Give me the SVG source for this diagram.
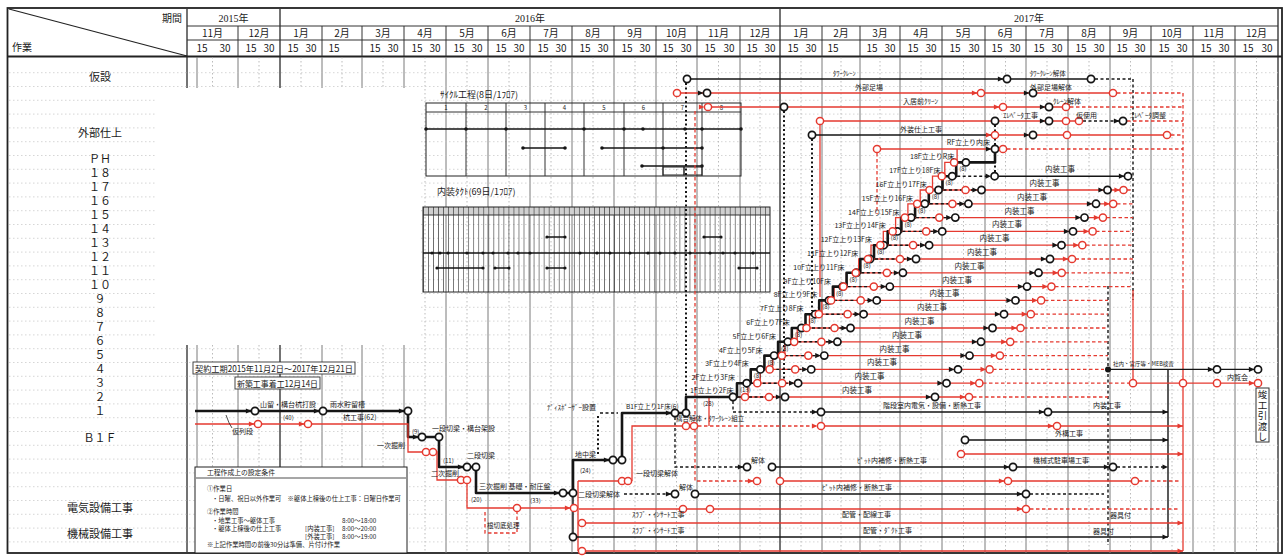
<svg xmlns="http://www.w3.org/2000/svg" width="1287" height="557" viewBox="0 0 1287 557">
<defs>
<style>
text{font-family:"Noto Sans CJK JP","Liberation Sans",sans-serif;fill:#1a1a1a}
.hd{font-family:"Liberation Serif","Noto Sans CJK JP",serif;font-size:10px}
.lb{font-family:"Liberation Serif","Noto Sans CJK JP",serif;font-size:11px;text-anchor:middle}
.a{font-size:7px}
.b{font-size:7.5px}
.c{font-size:6px}
.m{text-anchor:middle}
.e{text-anchor:end}
.hl{stroke:#333;stroke-width:1;fill:none}
.gm{stroke:#7a7a7a;stroke-width:1;fill:none}
.gy{stroke:#3a3a3a;stroke-width:1.4;fill:none}
.gd{stroke:#aaa;stroke-width:.8;stroke-dasharray:1.5 2.5;fill:none}
.gh{stroke:#c4c4c4;stroke-width:.7;stroke-dasharray:1.5 2.5;fill:none}
.k{stroke:#151515;stroke-width:1.4;fill:none}
.kt{stroke:#151515;stroke-width:2.6;fill:none;stroke-linejoin:round}
.kd{stroke:#151515;stroke-width:1.4;fill:none;stroke-dasharray:3 2.5}
.ko{stroke:#151515;stroke-width:2;fill:none;stroke-dasharray:2 2.5}
.r{stroke:#e53a30;stroke-width:1.3;fill:none}
.rd{stroke:#e53a30;stroke-width:1.3;fill:none;stroke-dasharray:3.5 2.5}
.cb{fill:#fff;stroke:#151515;stroke-width:1.7}
.cr{fill:#fff;stroke:#e53a30;stroke-width:1.5}
.tb{fill:none;stroke:#222;stroke-width:1}
.dt{fill:#151515}
</style>
<path id="ak" d="M0 0L-5.5-2.6L-5.5 2.6Z" fill="#151515"/>
<path id="ar" d="M0 0L-5.5-2.6L-5.5 2.6Z" fill="#e53a30"/>
<pattern id="tk" x="423" y="207" width="5.029" height="85" patternUnits="userSpaceOnUse"><path d="M0.35 0V85" stroke="#2a2a2a" stroke-width="0.7"/></pattern>
</defs>
<rect width="1287" height="557" fill="#fff"/>

<g id="header">
<rect x="7.5" y="8" width="1274.5" height="545" fill="none" stroke="#222" stroke-width="1.8"/>
<path class="gy" d="M187 8V553M280 8V553M780 8V553M1278 8V553"/>
<path class="hl" d="M187 26H1278M187 40H1278"/>
<path stroke="#222" stroke-width="1.8" d="M7.5 56.5H1282"/>
<path class="hl" d="M238 26V56M322 26V56M362 26V56M404 26V56M446 26V56M488 26V56M530 26V56M572 26V56M614 26V56M656 26V56M697 26V56M740 26V56M822 26V56M860 26V56M900 26V56M942 26V56M985 26V56M1026 26V56M1068 26V56M1110 26V56M1151 26V56M1193 26V56M1235 26V56"/>
<path d="M9 9L187 56" stroke="#222" stroke-width="1.2"/>
<text class="hd e" x="182" y="21.5">期間</text>
<text class="hd" x="12" y="51">作業</text>
<text class="hd m" x="233.5" y="21.5">2015年</text>
<text class="hd m" x="530" y="21.5">2016年</text>
<text class="hd m" x="1029" y="21.5">2017年</text>
<g class="hd m">
<text x="212.5" y="37">11月</text><text x="259" y="37">12月</text><text x="301" y="37">1月</text><text x="342" y="37">2月</text><text x="383" y="37">3月</text><text x="425" y="37">4月</text><text x="467" y="37">5月</text><text x="509" y="37">6月</text><text x="551" y="37">7月</text><text x="593" y="37">8月</text><text x="635" y="37">9月</text><text x="676.5" y="37">10月</text><text x="718.5" y="37">11月</text><text x="760" y="37">12月</text>
<text x="801" y="37">1月</text><text x="841" y="37">2月</text><text x="880" y="37">3月</text><text x="921" y="37">4月</text><text x="963.5" y="37">5月</text><text x="1005.5" y="37">6月</text><text x="1047" y="37">7月</text><text x="1089" y="37">8月</text><text x="1130.5" y="37">9月</text><text x="1172" y="37">10月</text><text x="1214" y="37">11月</text><text x="1256.5" y="37">12月</text>
</g>
<g class="hd m">
<text x="202" y="52">15</text><text x="225" y="52">30</text><text x="251" y="52">15</text><text x="269" y="52">30</text><text x="293" y="52">15</text><text x="311" y="52">30</text><text x="334" y="52">15</text>
<text x="375" y="52">15</text><text x="393" y="52">30</text><text x="417" y="52">15</text><text x="435" y="52">30</text><text x="459" y="52">15</text><text x="477" y="52">30</text><text x="501" y="52">15</text><text x="519" y="52">30</text><text x="543" y="52">15</text><text x="561" y="52">30</text><text x="585" y="52">15</text><text x="603" y="52">30</text><text x="627" y="52">15</text><text x="645" y="52">30</text><text x="668" y="52">15</text><text x="686" y="52">30</text><text x="710" y="52">15</text><text x="729" y="52">30</text><text x="752" y="52">15</text><text x="770" y="52">30</text>
<text x="793" y="52">15</text><text x="811" y="52">30</text><text x="833" y="52">15</text><text x="872" y="52">15</text><text x="890" y="52">30</text><text x="913" y="52">15</text><text x="931" y="52">30</text><text x="955" y="52">15</text><text x="974" y="52">30</text><text x="997" y="52">15</text><text x="1015" y="52">30</text><text x="1039" y="52">15</text><text x="1057" y="52">30</text><text x="1081" y="52">15</text><text x="1099" y="52">30</text><text x="1122" y="52">15</text><text x="1140" y="52">30</text><text x="1164" y="52">15</text><text x="1182" y="52">30</text><text x="1206" y="52">15</text><text x="1224" y="52">30</text><text x="1248" y="52">15</text><text x="1267" y="52">30</text>
</g>
</g>

<g id="grid">
<path class="gm" d="M197 57V553M238 57V553M322 57V553M362 57V553M404 57V553M446 57V553M488 57V553M530 57V553M572 57V553M614 57V553M656 57V553M697 57V553M740 57V553M822 57V553M860 57V553M900 57V553M942 57V553M985 57V553M1026 57V553M1068 57V553M1110 57V553M1151 57V553M1193 57V553M1235 57V553"/>
<path class="gd" d="M212.5 57V553M259 57V553M301 57V553M342 57V553M383 57V553M425 57V553M467 57V553M509 57V553M551 57V553M593 57V553M635 57V553M676.5 57V553M718.5 57V553M760 57V553M801 57V553M841 57V553M880 57V553M921 57V553M963.5 57V553M1005.5 57V553M1047 57V553M1089 57V553M1130.5 57V553M1172 57V553M1214 57V553M1256.5 57V553"/>
<path class="gh" d="M9 72.7H1278M9 86.5H1278M9 100.3H1278M9 114.1H1278M9 127.9H1278M9 141.7H1278M9 155.5H1278M9 169.3H1278M9 183.1H1278M9 196.9H1278M9 210.7H1278M9 224.5H1278M9 238.3H1278M9 252.1H1278M9 265.9H1278M9 279.7H1278M9 293.5H1278M9 307.3H1278M9 321.1H1278M9 334.9H1278M9 348.7H1278M9 362.5H1278M9 376.3H1278M9 390.1H1278M9 403.9H1278M9 417.7H1278M9 431.5H1278M9 445.3H1278M9 459.1H1278M9 472.9H1278M9 486.7H1278M9 500.5H1278M9 514.3H1278M9 528.1H1278M9 541.9H1278"/>
<rect x="157" y="88" width="263" height="257" fill="#fff"/>
</g>

<g id="row-labels" class="lb">
<text x="100" y="81">仮設</text>
<text x="100" y="137">外部仕上</text>
<text x="100" y="163">ＰＨ</text>
<text x="100" y="177">１８</text><text x="100" y="191">１７</text><text x="100" y="205">１６</text><text x="100" y="219">１５</text><text x="100" y="233">１４</text><text x="100" y="247">１３</text><text x="100" y="261">１２</text><text x="100" y="275">１１</text><text x="100" y="289">１０</text>
<text x="100" y="303">９</text><text x="100" y="317">８</text><text x="100" y="331">７</text><text x="100" y="345">６</text><text x="100" y="359">５</text><text x="100" y="373">４</text><text x="100" y="387">３</text><text x="100" y="401">２</text><text x="100" y="415">１</text>
<text x="100" y="442">Ｂ１Ｆ</text>
<text x="100" y="512">電気設備工事</text>
<text x="100" y="538">機械設備工事</text>
</g>

<g id="cycle-table">
<text x="440" y="98" font-size="9">ｻｲｸﾙ工程(8日/1ﾌﾛｱ)</text>
<rect class="tb" x="426" y="103" width="315" height="73"/>
<path class="hl" d="M426 112H741M466 103V176M506 103V176M545 103V176M584 103V176M624 103V176M663 103V176M702 103V176"/>
<g class="c m"><text x="446" y="110">1</text><text x="486" y="110">2</text><text x="525.5" y="110">3</text><text x="564.5" y="110">4</text><text x="604" y="110">5</text><text x="643.5" y="110">6</text><text x="682.5" y="110">7</text><text x="721.5" y="110">8</text></g>
<path class="k" d="M426 129H741M523 148H565M602 148H702M642 166H702"/>
<g class="dt"><circle cx="426" cy="129" r="1.8"/><circle cx="466" cy="129" r="1.8"/><circle cx="506" cy="129" r="1.8"/><circle cx="584" cy="129" r="1.8"/><circle cx="624" cy="129" r="1.8"/><circle cx="643" cy="129" r="1.8"/><circle cx="685" cy="129" r="1.8"/><circle cx="702" cy="129" r="1.8"/><circle cx="741" cy="129" r="1.8"/><circle cx="523" cy="148" r="1.8"/><circle cx="565" cy="148" r="1.8"/><circle cx="602" cy="148" r="1.8"/><circle cx="663" cy="148" r="1.8"/><circle cx="702" cy="148" r="1.8"/><circle cx="642" cy="166" r="1.8"/><circle cx="702" cy="166" r="1.8"/></g>
<rect class="tb" x="663" y="167" width="21" height="8"/><rect class="tb" x="684" y="167" width="18" height="8"/>
</g>

<g id="takt-table">
<text x="437" y="195" font-size="9">内装ﾀｸﾄ(69日/1ﾌﾛｱ)</text>
<rect x="423" y="207" width="347" height="8" fill="#d0d0d0"/>
<rect x="423" y="207" width="347" height="85" fill="url(#tk)"/>
<rect class="tb" x="423" y="207" width="347" height="85"/>
<path class="hl" d="M423 215H770"/>
<path class="k" d="M423 253H770M547 237H565M704 237H721M437 268H483M495 268H509M547 268H565M739 268H757"/>
<g class="dt"><circle cx="432" cy="253" r="1.6"/><circle cx="440" cy="253" r="1.6"/><circle cx="448" cy="253" r="1.6"/><circle cx="467" cy="253" r="1.6"/><circle cx="483" cy="253" r="1.6"/><circle cx="493" cy="253" r="1.6"/><circle cx="508" cy="253" r="1.6"/><circle cx="518" cy="253" r="1.6"/><circle cx="530" cy="253" r="1.6"/><circle cx="580" cy="253" r="1.6"/><circle cx="597" cy="253" r="1.6"/><circle cx="610" cy="253" r="1.6"/><circle cx="630" cy="253" r="1.6"/><circle cx="648" cy="253" r="1.6"/><circle cx="660" cy="253" r="1.6"/><circle cx="675" cy="253" r="1.6"/><circle cx="690" cy="253" r="1.6"/><circle cx="710" cy="253" r="1.6"/><circle cx="723" cy="253" r="1.6"/><circle cx="735" cy="253" r="1.6"/><circle cx="753" cy="253" r="1.6"/><circle cx="547" cy="237" r="1.6"/><circle cx="565" cy="237" r="1.6"/><circle cx="704" cy="237" r="1.6"/><circle cx="721" cy="237" r="1.6"/><circle cx="437" cy="268" r="1.6"/><circle cx="483" cy="268" r="1.6"/><circle cx="495" cy="268" r="1.6"/><circle cx="509" cy="268" r="1.6"/><circle cx="547" cy="268" r="1.6"/><circle cx="565" cy="268" r="1.6"/><circle cx="739" cy="268" r="1.6"/><circle cx="757" cy="268" r="1.6"/></g>
</g>

<g id="connectors">
<path class="kd" d="M1133 79V300M1108 286V545"/>
<path class="rd" d="M1183 93V290"/>
<path class="r" d="M1183 290V551M1133 290V379.5"/>
<path class="k" d="M1168 369.4V537"/>
<path class="ko" d="M686 409V83M784 111V380M812 139V311M995 125V172M598 416V456"/>
<path class="kd" d="M675 417V467H743M600 413H618M733 401V412H817"/>
<path class="rd" d="M695 111V481H753M877 153V214M485 512V533H517V512"/>
<path class="r" d="M820 125V297"/>
<path class="k" d="M691 79H1003M1011 79H1087"/>
<path class="kd" d="M1095 79H1133M1083 121H1119"/>
<path class="r" d="M681 93H703M711 93H977M985 93H1029M1037 93H1109M712 107H999M1007 107H1045M1053 107H1062M824 121H1045M1053 121H1062M1070 121H1075M999 135H1029M1037 135H1063M1071 135H1163M881 149H991"/>
<path class="k" d="M816 135H991"/>
<path class="rd" d="M1117 93H1183M1070 107H1183M1127 121H1183M1171 135H1183M1007 149H1183"/>
<path class="kt" d="M195 411H408V437H439V467H476V493H573V460H622V413H686"/>
<path class="r" d="M195 424H408V452H437V480H467V508H578M578 481V551M578 481H618M632 481V426H683"/>
<path class="k" d="M573 497V533"/>
<path class="r" d="M709 426V397H748V383.2H760.3V369.4H772.6V355.6H784.9V341.8H797.2V328H809.5V314.2H821.8V300.4H834.1V286.6H846.4V272.8H858.7V259H871V245.2H883.3V231.4H895.6V217.6H907.9V203.8H920.2V190H932.5V176.2H944.8V162.4H957.1V149"/>
<path class="kt" d="M686 413V397H737V383.2H750.7V369.4H764.4V355.6H778.1V341.8H791.8V328H805.5V314.2H819.2V300.4H832.9V286.6H846.6V272.8H860.3V259H874V245.2H887.7V231.4H901.4V217.6H915.1V203.8H928.8V190H942.5V176.2H956.2V162.4H995V152.6"/>
<path class="r" d="M745 397H969M757.3 383.2H979.3M769.6 369.4H989.6M781.9 355.6H999.9M794.2 341.8H1010.2M806.5 328H1020.5M818.8 314.2H1030.8M831.1 300.4H1041.1M843.4 286.6H1051.4M855.7 272.8H1061.7M868 259H1072M880.3 245.2H1082.3M892.6 231.4H1092.6M904.9 217.6H1102.9M917.2 203.8H1113.2M929.5 190H1123.5"/>
<path class="rd" d="M973 397H1108M983 383.2H1129M993 369.4H1104M1003.5 355.6H1108M1014 341.8H1108M1024 328H1108M1034.5 314.2H1108M1045 300.4H1108M1055 286.6H1133M1065.5 272.8H1133M1075.5 259H1133M1086 245.2H1133M1096 231.4H1133M1106.5 217.6H1133M1117 203.8H1133M1127 190H1133"/>
<path class="kd" d="M738 397H780M751.7 383.2H793.1M765.4 369.4H806.2M779.1 355.6H819.3M792.8 341.8H832.4M806.5 328H845.5M820.2 314.2H858.6M833.9 300.4H871.7M847.6 286.6H884.8M861.3 272.8H897.9M875 259H911M888.7 245.2H924.1M902.4 231.4H937.2M916.1 217.6H950.3M929.8 203.8H963.4M943.5 190H976.5M957.2 176.2H989.6"/>
<path class="k" d="M998.6 176.2H1124"/>
<path class="r" d="M1137 383.2H1179M1187 383.2H1213M1221 383.2H1254"/>
<path class="k" d="M1108 369.4H1213M1221 369.4H1254"/>
<path class="k" d="M825 412H1044M1052 412H1168M969 440H1168M776 467H1009M1017 467H1109M699 494H1022M577 537H1168"/>
<path class="kd" d="M1117 467H1165M624 494H671M1030 494H1104"/>
<path class="rd" d="M698 426H817M1139 481H1180M1030 509H1180"/>
<path class="r" d="M825 426H1053M1061 426H1183M965 454H1183M784 481H1004M1012 481H1131M579 509H1022M586 523H1183M586 551H1183"/>
</g>

<g id="nodes">
<g id="circles-black">
<circle class="cb" cx="687" cy="79" r="3.6"/><circle class="cb" cx="1007" cy="79" r="3.6"/><circle class="cb" cx="1091" cy="79" r="3.6"/>
<circle class="cb" cx="707" cy="93" r="3.6"/><circle class="cb" cx="1033" cy="93" r="3.6"/>
<circle class="cb" cx="784" cy="107" r="3.6"/><circle class="cb" cx="1049" cy="107" r="3.6"/>
<circle class="cb" cx="995" cy="121" r="3.6"/><circle class="cb" cx="1049" cy="121" r="3.6"/><circle class="cb" cx="1123" cy="121" r="3.6"/>
<circle class="cb" cx="812" cy="135" r="3.6"/><circle class="cb" cx="1033" cy="135" r="3.6"/>
<circle class="cb" cx="995" cy="149" r="3.6"/>
<circle class="cb" cx="255" cy="411" r="3.6"/><circle class="cb" cx="323" cy="411" r="3.6"/><circle class="cb" cx="408" cy="411" r="3.6"/><circle class="cb" cx="422" cy="437" r="3.6"/><circle class="cb" cx="439" cy="437" r="3.6"/><circle class="cb" cx="467" cy="467" r="3.6"/><circle class="cb" cx="476" cy="467" r="3.6"/><circle class="cb" cx="563" cy="493" r="3.6"/><circle class="cb" cx="573" cy="493" r="3.6"/><circle class="cb" cx="613" cy="460" r="3.6"/><circle class="cb" cx="622" cy="460" r="3.6"/><circle class="cb" cx="675" cy="413" r="3.6"/><circle class="cb" cx="686" cy="413" r="3.6"/>
<circle class="cb" cx="733" cy="397" r="3.6"/><circle class="cb" cx="746.7" cy="383.2" r="3.6"/><circle class="cb" cx="760.4" cy="369.4" r="3.6"/><circle class="cb" cx="774.1" cy="355.6" r="3.6"/><circle class="cb" cx="787.8" cy="341.8" r="3.6"/><circle class="cb" cx="801.5" cy="328" r="3.6"/><circle class="cb" cx="815.2" cy="314.2" r="3.6"/><circle class="cb" cx="828.9" cy="300.4" r="3.6"/><circle class="cb" cx="842.6" cy="286.6" r="3.6"/><circle class="cb" cx="856.3" cy="272.8" r="3.6"/><circle class="cb" cx="870" cy="259" r="3.6"/><circle class="cb" cx="883.7" cy="245.2" r="3.6"/><circle class="cb" cx="897.4" cy="231.4" r="3.6"/><circle class="cb" cx="911.1" cy="217.6" r="3.6"/><circle class="cb" cx="924.8" cy="203.8" r="3.6"/><circle class="cb" cx="938.5" cy="190" r="3.6"/><circle class="cb" cx="952.2" cy="176.2" r="3.6"/><circle class="cb" cx="965.9" cy="162.4" r="3.6"/>
<circle class="cb" cx="785" cy="397" r="3.6"/><circle class="cb" cx="798.1" cy="383.2" r="3.6"/><circle class="cb" cx="811.2" cy="369.4" r="3.6"/><circle class="cb" cx="824.3" cy="355.6" r="3.6"/><circle class="cb" cx="837.4" cy="341.8" r="3.6"/><circle class="cb" cx="850.5" cy="328" r="3.6"/><circle class="cb" cx="863.6" cy="314.2" r="3.6"/><circle class="cb" cx="876.7" cy="300.4" r="3.6"/><circle class="cb" cx="889.8" cy="286.6" r="3.6"/><circle class="cb" cx="902.9" cy="272.8" r="3.6"/><circle class="cb" cx="916" cy="259" r="3.6"/><circle class="cb" cx="929.1" cy="245.2" r="3.6"/><circle class="cb" cx="942.2" cy="231.4" r="3.6"/><circle class="cb" cx="955.3" cy="217.6" r="3.6"/><circle class="cb" cx="968.4" cy="203.8" r="3.6"/><circle class="cb" cx="981.5" cy="190" r="3.6"/><circle class="cb" cx="994.6" cy="176.2" r="3.6"/>
<circle class="cb" cx="935" cy="397" r="3.6"/><circle class="cb" cx="946.5" cy="383.2" r="3.6"/><circle class="cb" cx="958" cy="369.4" r="3.6"/><circle class="cb" cx="969.5" cy="355.6" r="3.6"/><circle class="cb" cx="981" cy="341.8" r="3.6"/><circle class="cb" cx="992.5" cy="328" r="3.6"/><circle class="cb" cx="1004" cy="314.2" r="3.6"/><circle class="cb" cx="1015.5" cy="300.4" r="3.6"/><circle class="cb" cx="1027" cy="286.6" r="3.6"/><circle class="cb" cx="1038.5" cy="272.8" r="3.6"/><circle class="cb" cx="1050" cy="259" r="3.6"/><circle class="cb" cx="1061.5" cy="245.2" r="3.6"/><circle class="cb" cx="1073" cy="231.4" r="3.6"/><circle class="cb" cx="1084.5" cy="217.6" r="3.6"/><circle class="cb" cx="1096" cy="203.8" r="3.6"/><circle class="cb" cx="1107.5" cy="190" r="3.6"/><circle class="cb" cx="1128" cy="176.2" r="3.6"/>
<circle class="cb" cx="821" cy="412" r="3.6"/><circle class="cb" cx="1048" cy="412" r="3.6"/><circle class="cb" cx="965" cy="440" r="3.6"/><circle class="cb" cx="747" cy="467" r="3.6"/><circle class="cb" cx="772" cy="467" r="3.6"/><circle class="cb" cx="1013" cy="467" r="3.6"/><circle class="cb" cx="1113" cy="467" r="3.6"/><circle class="cb" cx="675" cy="494" r="3.6"/><circle class="cb" cx="695" cy="494" r="3.6"/><circle class="cb" cx="1026" cy="494" r="3.6"/><circle class="cb" cx="573" cy="537" r="3.6"/>
<circle class="cb" cx="1217" cy="369.4" r="3.6"/><circle class="cb" cx="1258" cy="369.4" r="3.6"/>
<circle class="dt" cx="1108" cy="369.4" r="3"/>
</g>
<g id="circles-red">
<circle class="cr" cx="677" cy="93" r="3.6"/><circle class="cr" cx="981" cy="93" r="3.6"/><circle class="cr" cx="1113" cy="93" r="3.6"/>
<circle class="cr" cx="708" cy="107" r="3.6"/><circle class="cr" cx="1003" cy="107" r="3.6"/><circle class="cr" cx="1066" cy="107" r="3.6"/>
<circle class="cr" cx="820" cy="121" r="3.6"/><circle class="cr" cx="1066" cy="121" r="3.6"/><circle class="cr" cx="1079" cy="121" r="3.6"/>
<circle class="cr" cx="995" cy="135" r="3.6"/><circle class="cr" cx="1067" cy="135" r="3.6"/><circle class="cr" cx="1167" cy="135" r="3.6"/>
<circle class="cr" cx="877" cy="149" r="3.6"/><circle class="cr" cx="1003" cy="149" r="3.6"/>
<circle class="cr" cx="258" cy="424" r="3.6"/><circle class="cr" cx="308" cy="424" r="3.6"/><circle class="cr" cx="426" cy="452" r="3.6"/><circle class="cr" cx="433" cy="452" r="3.6"/><circle class="cr" cx="461" cy="480" r="3.6"/><circle class="cr" cx="467" cy="480" r="3.6"/><circle class="cr" cx="517" cy="508" r="3.6"/><circle class="cr" cx="574" cy="508" r="3.6"/>
<circle class="cr" cx="622" cy="481" r="3.6"/><circle class="cr" cx="628" cy="481" r="3.6"/><circle class="cr" cx="686" cy="426" r="3.6"/><circle class="cr" cx="694" cy="426" r="3.6"/>
<circle class="cr" cx="745" cy="397" r="3.6"/><circle class="cr" cx="757.3" cy="383.2" r="3.6"/><circle class="cr" cx="769.6" cy="369.4" r="3.6"/><circle class="cr" cx="781.9" cy="355.6" r="3.6"/><circle class="cr" cx="794.2" cy="341.8" r="3.6"/><circle class="cr" cx="806.5" cy="328" r="3.6"/><circle class="cr" cx="818.8" cy="314.2" r="3.6"/><circle class="cr" cx="831.1" cy="300.4" r="3.6"/><circle class="cr" cx="843.4" cy="286.6" r="3.6"/><circle class="cr" cx="855.7" cy="272.8" r="3.6"/><circle class="cr" cx="868" cy="259" r="3.6"/><circle class="cr" cx="880.3" cy="245.2" r="3.6"/><circle class="cr" cx="892.6" cy="231.4" r="3.6"/><circle class="cr" cx="904.9" cy="217.6" r="3.6"/><circle class="cr" cx="917.2" cy="203.8" r="3.6"/><circle class="cr" cx="929.5" cy="190" r="3.6"/><circle class="cr" cx="941.8" cy="176.2" r="3.6"/><circle class="cr" cx="954.1" cy="162.4" r="3.6"/>
<circle class="cr" cx="769" cy="397" r="3.6"/><circle class="cr" cx="782.1" cy="383.2" r="3.6"/><circle class="cr" cx="795.2" cy="369.4" r="3.6"/><circle class="cr" cx="808.3" cy="355.6" r="3.6"/><circle class="cr" cx="821.4" cy="341.8" r="3.6"/><circle class="cr" cx="834.5" cy="328" r="3.6"/><circle class="cr" cx="847.6" cy="314.2" r="3.6"/><circle class="cr" cx="860.7" cy="300.4" r="3.6"/><circle class="cr" cx="873.8" cy="286.6" r="3.6"/><circle class="cr" cx="886.9" cy="272.8" r="3.6"/><circle class="cr" cx="900" cy="259" r="3.6"/><circle class="cr" cx="913.1" cy="245.2" r="3.6"/><circle class="cr" cx="926.2" cy="231.4" r="3.6"/><circle class="cr" cx="939.3" cy="217.6" r="3.6"/><circle class="cr" cx="952.4" cy="203.8" r="3.6"/><circle class="cr" cx="965.5" cy="190" r="3.6"/>
<circle class="cr" cx="969" cy="397" r="3.6"/><circle class="cr" cx="979.3" cy="383.2" r="3.6"/><circle class="cr" cx="989.6" cy="369.4" r="3.6"/><circle class="cr" cx="999.9" cy="355.6" r="3.6"/><circle class="cr" cx="1010.2" cy="341.8" r="3.6"/><circle class="cr" cx="1020.5" cy="328" r="3.6"/><circle class="cr" cx="1030.8" cy="314.2" r="3.6"/><circle class="cr" cx="1041.1" cy="300.4" r="3.6"/><circle class="cr" cx="1051.4" cy="286.6" r="3.6"/><circle class="cr" cx="1061.7" cy="272.8" r="3.6"/><circle class="cr" cx="1072" cy="259" r="3.6"/><circle class="cr" cx="1082.3" cy="245.2" r="3.6"/><circle class="cr" cx="1092.6" cy="231.4" r="3.6"/><circle class="cr" cx="1102.9" cy="217.6" r="3.6"/><circle class="cr" cx="1113.2" cy="203.8" r="3.6"/><circle class="cr" cx="1123.5" cy="190" r="3.6"/>
<circle class="cr" cx="1133" cy="383.2" r="3.6"/><circle class="cr" cx="1183" cy="383.2" r="3.6"/><circle class="cr" cx="1217" cy="383.2" r="3.6"/><circle class="cr" cx="1258" cy="383.2" r="3.6"/>
<circle class="cr" cx="821" cy="426" r="3.6"/><circle class="cr" cx="1057" cy="426" r="3.6"/><circle class="cr" cx="961" cy="454" r="3.6"/><circle class="cr" cx="757" cy="481" r="3.6"/><circle class="cr" cx="780" cy="481" r="3.6"/><circle class="cr" cx="1008" cy="481" r="3.6"/><circle class="cr" cx="1135" cy="481" r="3.6"/><circle class="cr" cx="683" cy="509" r="3.6"/><circle class="cr" cx="710" cy="509" r="3.6"/><circle class="cr" cx="1026" cy="509" r="3.6"/><circle class="cr" cx="582" cy="523" r="3.6"/><circle class="cr" cx="582" cy="551" r="3.6"/>
</g>
<g id="arrows">
<use href="#ak" x="251.4" y="411"/><use href="#ak" x="319.4" y="411"/><use href="#ak" x="404.4" y="411"/><use href="#ak" x="418.4" y="437"/><use href="#ak" x="463.4" y="467"/><use href="#ak" x="559.4" y="493"/><use href="#ak" x="609.4" y="460"/><use href="#ak" x="671.4" y="413"/>
<use href="#ak" x="1003.4" y="79"/><use href="#ak" x="703.4" y="93"/><use href="#ak" x="1029.4" y="93"/><use href="#ak" x="1045.4" y="107"/><use href="#ak" x="1045.4" y="121"/><use href="#ak" x="1119.4" y="121"/><use href="#ak" x="1029.4" y="135"/><use href="#ak" x="991.4" y="149"/>
<use href="#ak" x="781.4" y="397"/><use href="#ak" x="794.5" y="383.2"/><use href="#ak" x="807.6" y="369.4"/><use href="#ak" x="820.7" y="355.6"/><use href="#ak" x="833.8" y="341.8"/><use href="#ak" x="846.9" y="328"/><use href="#ak" x="860" y="314.2"/><use href="#ak" x="873.1" y="300.4"/><use href="#ak" x="886.2" y="286.6"/><use href="#ak" x="899.3" y="272.8"/><use href="#ak" x="912.4" y="259"/><use href="#ak" x="925.5" y="245.2"/><use href="#ak" x="938.6" y="231.4"/><use href="#ak" x="951.7" y="217.6"/><use href="#ak" x="964.8" y="203.8"/><use href="#ak" x="977.9" y="190"/><use href="#ak" x="991" y="176.2"/>
<use href="#ak" x="931.4" y="397"/><use href="#ak" x="942.9" y="383.2"/><use href="#ak" x="954.4" y="369.4"/><use href="#ak" x="965.9" y="355.6"/><use href="#ak" x="977.4" y="341.8"/><use href="#ak" x="988.9" y="328"/><use href="#ak" x="1000.4" y="314.2"/><use href="#ak" x="1011.9" y="300.4"/><use href="#ak" x="1023.4" y="286.6"/><use href="#ak" x="1034.9" y="272.8"/><use href="#ak" x="1046.4" y="259"/><use href="#ak" x="1057.9" y="245.2"/><use href="#ak" x="1069.4" y="231.4"/><use href="#ak" x="1080.9" y="217.6"/><use href="#ak" x="1092.4" y="203.8"/><use href="#ak" x="1103.9" y="190"/><use href="#ak" x="1124.4" y="176.2"/>
<use href="#ak" x="817.4" y="412"/><use href="#ak" x="1044.4" y="412"/><use href="#ak" x="743.4" y="467"/><use href="#ak" x="1009.4" y="467"/><use href="#ak" x="1109.4" y="467"/><use href="#ak" x="671.4" y="494"/><use href="#ak" x="1022.4" y="494"/><use href="#ak" x="1213.4" y="369.4"/><use href="#ak" x="1254.4" y="369.4"/><use href="#ak" x="1168" y="467"/><use href="#ak" x="1168" y="537"/><use href="#ak" x="1168" y="440"/><use href="#ak" x="1168" y="412"/>
<use href="#ar" x="254.4" y="424"/><use href="#ar" x="304.4" y="424"/><use href="#ar" x="977.4" y="93"/><use href="#ar" x="704.4" y="107"/><use href="#ar" x="999.4" y="107"/><use href="#ar" x="991.4" y="135"/><use href="#ar" x="570.4" y="508"/>
<use href="#ar" x="965.4" y="397"/><use href="#ar" x="975.7" y="383.2"/><use href="#ar" x="986" y="369.4"/><use href="#ar" x="996.3" y="355.6"/><use href="#ar" x="1006.6" y="341.8"/><use href="#ar" x="1016.9" y="328"/><use href="#ar" x="1027.2" y="314.2"/><use href="#ar" x="1037.5" y="300.4"/><use href="#ar" x="1047.8" y="286.6"/><use href="#ar" x="1058.1" y="272.8"/><use href="#ar" x="1068.4" y="259"/><use href="#ar" x="1078.7" y="245.2"/><use href="#ar" x="1089" y="231.4"/><use href="#ar" x="1099.3" y="217.6"/><use href="#ar" x="1109.6" y="203.8"/><use href="#ar" x="1119.9" y="190"/>
<use href="#ar" x="817.4" y="426"/><use href="#ar" x="1053.4" y="426"/><use href="#ar" x="753.4" y="481"/><use href="#ar" x="1004.4" y="481"/><use href="#ar" x="1022.4" y="509"/><use href="#ar" x="1254.4" y="383.2"/><use href="#ar" x="1183" y="454"/><use href="#ar" x="1183" y="523"/><use href="#ar" x="1183" y="551"/><use href="#ar" x="1183" y="426"/>
</g>
</g>

<g id="labels-top" class="a">
<text x="833" y="76" font-size="6.5">ﾀﾜｰｸﾚｰﾝ</text>
<text x="1030" y="76" font-size="6.5">ﾀﾜｰｸﾚｰﾝ解体</text>
<text x="855" y="90">外部足場</text>
<text x="1030" y="90">外部足場解体</text>
<text x="903" y="104">入居前ｸﾘｰﾝ</text>
<text x="1053" y="104">ｸﾚｰﾝ解体</text>
<text x="1003" y="118">ｴﾚﾍﾞｰﾀ工事</text>
<text x="1076" y="118">仮使用</text>
<text x="1131" y="118">ｴﾚﾍﾞｰﾀ調整</text>
<text x="900" y="132">外装仕上工事</text>
<text class="e" x="990" y="145">RF立上り内床</text>
</g>

<g id="labels-stairs" class="a">
<text x="690" y="393">1F立上り2F床</text>
<g class="e">
<text x="735" y="380.2">2F立上り3F床</text><text x="748.7" y="366.4">3F立上り4F床</text><text x="762.4" y="352.6">4F立上り5F床</text><text x="776.1" y="338.8">5F立上り6F床</text><text x="789.8" y="325">6F立上り7F床</text><text x="803.5" y="311.2">7F立上り8F床</text><text x="817.2" y="297.4">8F立上り9F床</text><text x="830.9" y="283.6">9F立上り10F床</text><text x="844.6" y="269.8">10F立上り11F床</text><text x="858.3" y="256">11F立上り12F床</text><text x="872" y="242.2">12F立上り13F床</text><text x="885.7" y="228.4">13F立上り14F床</text><text x="899.4" y="214.6">14F立上り15F床</text><text x="913.1" y="200.8">15F立上り16F床</text><text x="926.8" y="187">16F立上り17F床</text><text x="940.5" y="173.2">17F立上り18F床</text><text x="954.2" y="159.4">18F立上りR床</text>
</g>
<g class="c">
<text x="703" y="406">(28)</text><text x="740" y="392">(13)</text>
<text x="753.7" y="378.4">(8)</text><text x="767.4" y="364.6">(8)</text><text x="781.1" y="350.8">(8)</text><text x="794.8" y="337">(8)</text><text x="808.5" y="323.2">(8)</text><text x="822.2" y="309.4">(8)</text><text x="835.9" y="295.6">(8)</text><text x="849.6" y="281.8">(8)</text><text x="863.3" y="268">(8)</text><text x="877" y="254.2">(8)</text><text x="890.7" y="240.4">(8)</text><text x="904.4" y="226.6">(8)</text><text x="918.1" y="212.8">(8)</text><text x="931.8" y="199">(8)</text><text x="945.5" y="185.2">(8)</text><text x="959.2" y="171.4">(8)</text>
</g>
</g>

<g id="labels-interior" class="b m">
<text x="857" y="393">内装工事</text><text x="869.5" y="379.2">内装工事</text><text x="882" y="365.4">内装工事</text><text x="894.5" y="351.6">内装工事</text><text x="907" y="337.8">内装工事</text><text x="919.5" y="324">内装工事</text><text x="932" y="310.2">内装工事</text><text x="944.5" y="296.4">内装工事</text><text x="957" y="282.6">内装工事</text><text x="969.5" y="268.8">内装工事</text><text x="982" y="255">内装工事</text><text x="994.5" y="241.2">内装工事</text><text x="1007" y="227.4">内装工事</text><text x="1019.5" y="213.6">内装工事</text><text x="1032" y="199.8">内装工事</text><text x="1044.5" y="186">内装工事</text><text x="1060" y="172.2">内装工事</text>
</g>

<g id="labels-lower" class="a">
<text x="883" y="408">階段室内電気・設備・断熱工事</text>
<text x="1093" y="408">内装工事</text>
<text x="676" y="421" font-size="6.5">構台解体・ﾀﾜｰｸﾚｰﾝ組立</text>
<text x="1055" y="436">外構工事</text>
<text x="751" y="463">解体</text>
<text x="857" y="463">ﾋﾟｯﾄ内補修・断熱工事</text>
<text x="1033" y="463">機械式駐車場工事</text>
<text x="636" y="476">一段切梁解体</text>
<text x="578" y="497">二段切梁解体</text>
<text x="679" y="490">解体</text>
<text x="822" y="490">ﾋﾟｯﾄ内補修・断熱工事</text>
<text x="632" y="517">ｽﾗﾌﾞ・ｲﾝｻｰﾄ工事</text>
<text x="842" y="517">配管・配線工事</text>
<text x="1110" y="518">器具付</text>
<text x="632" y="533">ｽﾗﾌﾞ・ｲﾝｻｰﾄ工事</text>
<text x="863" y="533">配管・ﾀﾞｸﾄ工事</text>
<text x="1093" y="534">器具付</text>
<text x="1113" y="366" font-size="5.5">社内・官庁等・MEB検査</text>
<text x="1227" y="379.5">内覧会</text>
</g>

<g id="labels-b1f" class="a">
<text x="260" y="407">山留・構台杭打設</text>
<text x="330" y="407">雨水貯留槽</text>
<text x="283" y="420" class="c">(40)</text>
<text x="343" y="420">杭工事(62)</text>
<path d="M226 415Q229 424 232 428" stroke="#222" stroke-width=".8" fill="none"/>
<text x="232" y="434">仮列段</text>
<text class="e" x="405" y="448">一次掘削</text>
<text class="c" x="412" y="434">(9)</text>
<text x="432" y="431">一段切梁・構台架設</text>
<text class="c" x="443" y="463">(11)</text>
<text x="467" y="458">二段切梁</text>
<text x="431" y="476">二次掘削</text>
<text x="479" y="489">三次掘削 基礎・耐圧盤</text>
<text class="c" x="471" y="502">(20)</text>
<text class="c" x="530" y="503">(33)</text>
<text x="487" y="528" font-size="6.5">根切底処理</text>
<text x="575" y="457">地中梁</text>
<text class="c" x="580" y="473">(24)</text>
<text class="e" x="596" y="410">ﾃﾞｨｽﾎﾟｰｻﾞｰ設置</text>
<text x="626" y="409" font-size="6.5">B1F立上り1F床(6)</text>
</g>

<g id="contract-boxes">
<rect x="193" y="362" width="162" height="12" fill="#fff" stroke="#333" stroke-width=".9"/>
<text x="195" y="371.5" font-size="8.5" textLength="158" lengthAdjust="spacingAndGlyphs">契約工期2015年11月2日～2017年12月21日</text>
<rect x="235" y="377" width="85" height="12" fill="#fff" stroke="#333" stroke-width=".9"/>
<text x="237" y="386.5" font-size="8.5" textLength="81" lengthAdjust="spacingAndGlyphs">新築工事着工12月14日</text>
</g>

<g id="conditions">
<rect x="195" y="467" width="212" height="86" fill="#fff" stroke="#222" stroke-width="1"/>
<text x="207" y="475" font-size="6.8">工程作成上の設定条件</text>
<path d="M196 478H406" stroke="#222" stroke-width=".8"/>
<g font-size="6.3">
<text x="207" y="491">①作業日</text>
<text x="212" y="501">・日曜、祝日以外作業可　※躯体上棟後の仕上工事：日曜日作業可</text>
<text x="207" y="514">②作業時間</text>
<text x="212" y="523">・地業工事～躯体工事</text><text x="342" y="523">8:00～18:00</text>
<text x="212" y="531">・躯体上棟後の仕上工事</text><text x="305" y="531">[内装工事]</text><text x="342" y="531">8:00～20:00</text>
<text x="305" y="539">[外装工事]</text><text x="342" y="539">8:00～19:00</text>
<text x="207" y="547">※上記作業時間の前後30分は準備、片付け作業</text>
</g>
</g>

<g id="handover">
<rect x="1256" y="388" width="13" height="54" fill="#fff" stroke="#333" stroke-width="1"/>
<text x="1262.5" y="390" font-size="9.5" writing-mode="vertical-rl" letter-spacing="1">竣工引渡し</text>
</g>
</svg>
